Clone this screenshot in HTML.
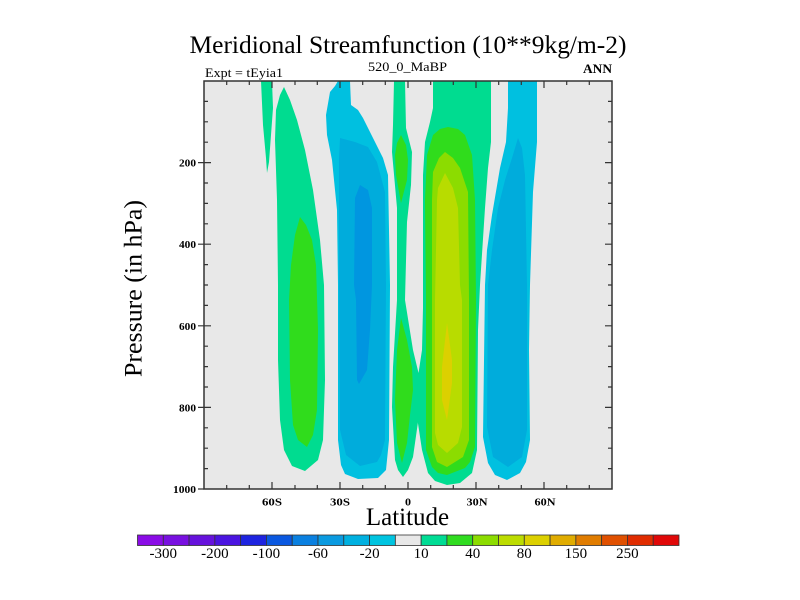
<!DOCTYPE html>
<html><head><meta charset="utf-8"><style>
html,body{margin:0;padding:0;background:#fff;}
svg{display:block;}
text{font-family:"Liberation Serif",serif;fill:#000;}
</style></head><body>
<svg width="800" height="600" viewBox="0 0 800 600" xmlns="http://www.w3.org/2000/svg">
<rect width="800" height="600" fill="#fff"/>
<!-- titles -->
<text x="408" y="53" font-size="25.5" text-anchor="middle" textLength="437" lengthAdjust="spacingAndGlyphs">Meridional Streamfunction (10**9kg/m-2)</text>
<text x="205" y="77" font-size="12.5" textLength="78" lengthAdjust="spacingAndGlyphs">Expt = tEyia1</text>
<text x="407.5" y="71" font-size="12.5" text-anchor="middle" textLength="79" lengthAdjust="spacingAndGlyphs">520_0_MaBP</text>
<text x="612" y="73" font-size="12.5" font-weight="bold" text-anchor="end" textLength="29" lengthAdjust="spacingAndGlyphs">ANN</text>

<!-- plot background -->
<rect x="204" y="81" width="408" height="408" fill="#e8e8e8"/>
<g stroke="none">
<!-- A -->
<path fill="#00dc90" d="M261,81 L272,81 L273,108 L271,135 L269,162 L267,173 L266,158 L263,125 Z"/>
<!-- B -->
<path fill="#00dc90" d="M284,87 L290,100 L297,120 L305,150 L313,190 L320,240 L324,285 L325,380 L323,440 L318,460 L305,471 L292,466 L284,450 L280,420 L278,360 L278,285 L277,200 L275,140 L276,110 L280,95 Z"/>
<!-- C -->
<path fill="#30dc1c" d="M300,217 L306,225 L312,240 L316,265 L318,330 L317,410 L313,435 L307,447 L298,440 L293,425 L290,380 L289,300 L291,265 L295,235 Z"/>
<!-- D -->
<path fill="#00c0e0" d="M338,81 L350,81 L351,105 L358,110 L363,118 L373,138 L383,158 L388,175 L390,285 L389,440 L386,470 L378,478 L358,479 L345,474 L341,465 L338,440 L338,285 L337,210 L332,160 L327,135 L326,115 L330,92 L335,86 Z"/>
<!-- E -->
<path fill="#00acdc" d="M340,138 L355,142 L368,147 L377,162 L385,192 L386,285 L385,440 L381,455 L377,462 L360,466 L346,455 L340,430 L339,285 L339,158 Z"/>
<!-- F -->
<path fill="#0096e0" d="M360,185 L368,190 L372,208 L372,285 L370,330 L367,370 L359,384 L357,380 L356,300 L354,285 L355,198 Z"/>
<!-- G -->
<path fill="#00dc90" d="M394,81 L405,81 L406,128 L412,152 L411,185 L407,222 L405,300 L413,350 L419,375 L419,415 L413,457 L408,470 L403,477 L398,470 L395,460 L392,407 L393,367 L397,300 L397,208 L392,152 L393,125 Z"/>
<!-- H -->
<path fill="#30dc1c" d="M401,135 L406,145 L408,160 L407,180 L401,203 L396,175 L395,155 L397,143 Z"/>
<!-- I -->
<path fill="#30dc1c" d="M401,318 L407,340 L412,367 L413,390 L410,415 L407,443 L402,463 L397,443 L395,400 L397,350 Z"/>
<!-- J -->
<path fill="#00dc90" d="M433,81 L491,81 L491,142 L488,168 L485,208 L480,285 L478,330 L477,450 L472,473 L460,483 L447,485 L435,481 L428,473 L422,450 L417,417 L417,383 L422,350 L423,308 L423,175 L425,142 L430,122 L433,108 Z"/>
<!-- K -->
<path fill="#30dc1c" d="M448,127 L458,129 L465,135 L472,155 L475,200 L476,300 L475,447 L470,462 L465,468 L447,475 L438,473 L432,467 L426,450 L426,300 L425,200 L427,155 L433,135 L440,129 Z"/>
<!-- L -->
<path fill="#8cdc00" d="M445,152 L453,158 L460,168 L468,192 L469,300 L469,440 L463,457 L447,467 L437,462 L432,447 L432,300 L432,200 L433,172 L439,158 Z"/>
<!-- M -->
<path fill="#b8dc00" d="M445,173 L453,188 L458,208 L460,285 L462,300 L462,427 L458,443 L447,453 L438,445 L435,433 L435,300 L437,200 L438,188 Z"/>
<!-- N -->
<path fill="#dcd000" d="M447,323 L452,360 L452,383 L447,420 L442,400 L442,367 Z"/>
<!-- O -->
<path fill="#00c0e0" d="M508,81 L537,81 L537,142 L533,192 L530,285 L529,350 L530,440 L526,462 L520,473 L507,480 L495,475 L488,463 L483,437 L485,285 L487,250 L492,215 L500,168 L506,142 L508,108 Z"/>
<!-- P -->
<path fill="#00acdc" d="M518,138 L522,148 L525,175 L527,285 L527,430 L522,457 L508,467 L493,457 L487,427 L488,285 L492,250 L498,208 L505,180 L512,158 Z"/>
</g>

<!-- frame -->
<rect x="204" y="81" width="408" height="408" fill="none" stroke="#333" stroke-width="1.5"/>
<g stroke="#333" stroke-width="1.2">
<path d="M226.7,489 v-4 M249.3,489 v-4 M295,489 v-4 M317.3,489 v-4 M362.7,489 v-4 M385.3,489 v-4 M430.7,489 v-4 M453.3,489 v-4 M498.7,489 v-4 M521.3,489 v-4 M566.7,489 v-4 M589.3,489 v-4
M272,489 v-7 M340,489 v-7 M408,489 v-7 M476,489 v-7 M544,489 v-7
M226.7,81 v4 M249.3,81 v4 M295,81 v4 M317.3,81 v4 M362.7,81 v4 M385.3,81 v4 M430.7,81 v4 M453.3,81 v4 M498.7,81 v4 M521.3,81 v4 M566.7,81 v4 M589.3,81 v4
M272,81 v7 M340,81 v7 M408,81 v7 M476,81 v7 M544,81 v7"/>
<path d="M204,101.4 h4 M204,121.8 h4 M204,142.2 h4 M204,183 h4 M204,203.4 h4 M204,223.8 h4 M204,264.6 h4 M204,285 h4 M204,305.4 h4 M204,346.2 h4 M204,366.6 h4 M204,387 h4 M204,427.8 h4 M204,448.2 h4 M204,468.6 h4
M198,162.6 h13 M198,244.2 h13 M198,325.8 h13 M198,407.4 h13 M198,489 h6
M612,101.4 h-4 M612,121.8 h-4 M612,142.2 h-4 M612,183 h-4 M612,203.4 h-4 M612,223.8 h-4 M612,264.6 h-4 M612,285 h-4 M612,305.4 h-4 M612,346.2 h-4 M612,366.6 h-4 M612,387 h-4 M612,427.8 h-4 M612,448.2 h-4 M612,468.6 h-4
M612,162.6 h-7 M612,244.2 h-7 M612,325.8 h-7 M612,407.4 h-7"/>
</g>

<!-- tick labels -->
<g font-size="11" font-weight="bold">
<text x="272" y="505.5" text-anchor="middle" textLength="20" lengthAdjust="spacingAndGlyphs">60S</text>
<text x="340" y="505.5" text-anchor="middle" textLength="20" lengthAdjust="spacingAndGlyphs">30S</text>
<text x="408" y="505.5" text-anchor="middle" textLength="6" lengthAdjust="spacingAndGlyphs">0</text>
<text x="477" y="505.5" text-anchor="middle" textLength="21" lengthAdjust="spacingAndGlyphs">30N</text>
<text x="545" y="505.5" text-anchor="middle" textLength="21" lengthAdjust="spacingAndGlyphs">60N</text>
<text x="196" y="166.6" text-anchor="end" textLength="17" lengthAdjust="spacingAndGlyphs">200</text>
<text x="196" y="248.2" text-anchor="end" textLength="17" lengthAdjust="spacingAndGlyphs">400</text>
<text x="196" y="329.8" text-anchor="end" textLength="17" lengthAdjust="spacingAndGlyphs">600</text>
<text x="196" y="411.4" text-anchor="end" textLength="17" lengthAdjust="spacingAndGlyphs">800</text>
<text x="196" y="493" text-anchor="end" textLength="23" lengthAdjust="spacingAndGlyphs">1000</text>
</g>

<!-- axis titles -->
<text x="407.5" y="525" font-size="25" text-anchor="middle">Latitude</text>
<text transform="translate(141.5,288.5) rotate(-90)" x="0" y="0" font-size="25.5" text-anchor="middle" textLength="177" lengthAdjust="spacingAndGlyphs">Pressure (in hPa)</text>

<!-- colorbar -->
<g stroke="#333" stroke-width="0.8">
<rect x="137.5" y="535" width="25.79" height="10.5" fill="#8a0ce6"/>
<rect x="163.29" y="535" width="25.79" height="10.5" fill="#7810e0"/>
<rect x="189.07" y="535" width="25.79" height="10.5" fill="#6612dc"/>
<rect x="214.86" y="535" width="25.79" height="10.5" fill="#4a14e0"/>
<rect x="240.64" y="535" width="25.79" height="10.5" fill="#1e24e0"/>
<rect x="266.43" y="535" width="25.79" height="10.5" fill="#0a58e0"/>
<rect x="292.21" y="535" width="25.79" height="10.5" fill="#0a80e0"/>
<rect x="318" y="535" width="25.79" height="10.5" fill="#0a9ae0"/>
<rect x="343.79" y="535" width="25.79" height="10.5" fill="#00b0e0"/>
<rect x="369.57" y="535" width="25.79" height="10.5" fill="#00c4e0"/>
<rect x="395.36" y="535" width="25.79" height="10.5" fill="#e8e8e8"/>
<rect x="421.14" y="535" width="25.79" height="10.5" fill="#00dc94"/>
<rect x="446.93" y="535" width="25.79" height="10.5" fill="#30dc20"/>
<rect x="472.71" y="535" width="25.79" height="10.5" fill="#8cdc00"/>
<rect x="498.5" y="535" width="25.79" height="10.5" fill="#bcdc00"/>
<rect x="524.29" y="535" width="25.79" height="10.5" fill="#dcd000"/>
<rect x="550.07" y="535" width="25.79" height="10.5" fill="#e0ac00"/>
<rect x="575.86" y="535" width="25.79" height="10.5" fill="#e07c00"/>
<rect x="601.64" y="535" width="25.79" height="10.5" fill="#e05000"/>
<rect x="627.43" y="535" width="25.79" height="10.5" fill="#e02c00"/>
<rect x="653.21" y="535" width="25.79" height="10.5" fill="#e00808"/>
</g>
<g font-size="15" text-anchor="middle">
<text x="163.3" y="558">-300</text>
<text x="214.9" y="558">-200</text>
<text x="266.4" y="558">-100</text>
<text x="318" y="558">-60</text>
<text x="369.6" y="558">-20</text>
<text x="421.1" y="558">10</text>
<text x="472.7" y="558">40</text>
<text x="524.3" y="558">80</text>
<text x="575.9" y="558">150</text>
<text x="627.4" y="558">250</text>
</g>
</svg>
</body></html>
